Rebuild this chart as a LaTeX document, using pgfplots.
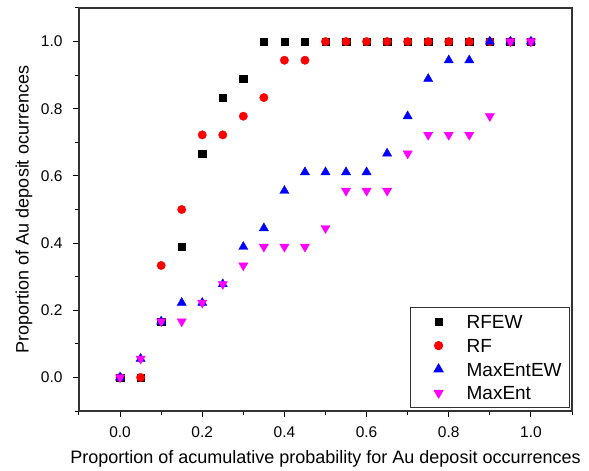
\documentclass[border=0pt]{standalone}
\usepackage{fontspec}
\setmainfont{Liberation Sans}
\usepackage{pgfplots}
\pgfplotsset{compat=1.18}
\usepackage{pgfplotstable}
\definecolor{mymag}{RGB}{255,0,255}
\definecolor{myred}{RGB}{255,0,0}
\definecolor{myblue}{RGB}{0,0,255}
\pgfplotstableread{
x y
0.00 0
0.05 0
0.10 0.1667
0.15 0.3889
0.20 0.6667
0.25 0.8333
0.30 0.8889
0.35 1
0.40 1
0.45 1
0.50 1
0.55 1
0.60 1
0.65 1
0.70 1
0.75 1
0.80 1
0.85 1
0.90 1
0.95 1
1.00 1
}\rfew
\pgfplotstableread{
x y
0.00 0
0.05 0
0.10 0.3333
0.15 0.5
0.20 0.7222
0.25 0.7222
0.30 0.7778
0.35 0.8333
0.40 0.9444
0.45 0.9444
0.50 1
0.55 1
0.60 1
0.65 1
0.70 1
0.75 1
0.80 1
0.85 1
0.90 1
0.95 1
1.00 1
}\rf
\pgfplotstableread{
x y
0.00 0
0.05 0.0556
0.10 0.1667
0.15 0.2222
0.20 0.2222
0.25 0.2778
0.30 0.3889
0.35 0.4444
0.40 0.5556
0.45 0.6111
0.50 0.6111
0.55 0.6111
0.60 0.6111
0.65 0.6667
0.70 0.7778
0.75 0.8889
0.80 0.9444
0.85 0.9444
0.90 1
0.95 1
1.00 1
}\maxentew
\pgfplotstableread{
x y
0.00 0
0.05 0.0556
0.10 0.1667
0.15 0.1667
0.20 0.2222
0.25 0.2778
0.30 0.3333
0.35 0.3889
0.40 0.3889
0.45 0.3889
0.50 0.4444
0.55 0.5556
0.60 0.5556
0.65 0.5556
0.70 0.6667
0.75 0.7222
0.80 0.7222
0.85 0.7222
0.90 0.7778
0.95 1
1.00 1
}\maxent
\begin{document}
\begin{tikzpicture}
\begin{axis}[
  scale only axis, width=493pt, height=403pt,
  xmin=-0.1, xmax=1.1, ymin=-0.1, ymax=1.1,
  xtick={0,0.2,0.4,0.6,0.8,1.0}, ytick={0,0.2,0.4,0.6,0.8,1.0},
  minor xtick={-0.1,0.1,0.3,0.5,0.7,0.9,1.1},
  minor ytick={-0.1,0.1,0.3,0.5,0.7,0.9,1.1},
  xtick pos=bottom, ytick pos=left,
  tick align=outside,
  major tick length=6pt, minor tick length=4pt,
  tick style={line width=1pt, black},
  axis line style={line width=1.3pt, black!80},
  /pgf/number format/assume math mode=true,
  xticklabel style={/pgf/number format/.cd, fixed, fixed zerofill, precision=1},
  yticklabel style={/pgf/number format/.cd, fixed, fixed zerofill, precision=1},
  tick label style={font=\fontsize{15.5}{18}\selectfont},
  xticklabel shift=6pt, yticklabel shift=7pt,
  every axis x label/.style={at={(axis description cs:0.5,-0.0893)}, anchor=north, font=\fontsize{18}{21}\selectfont},
  every axis y label/.style={at={(axis description cs:-0.0872,0.5)}, rotate=90, anchor=south, font=\fontsize{18}{21}\selectfont},
  xlabel={Proportion of acumulative probability for Au deposit occurrences},
  ylabel={Proportion of Au deposit ocurrences},
  legend style={at={(0.996,0.0074)}, anchor=south east, font=\fontsize{19}{22}\selectfont,
    draw=black!80, line width=0.8pt, inner sep=3pt, row sep=0pt,
    nodes={inner xsep=5pt, inner ysep=5pt, text height=13.6pt, text depth=0pt},
    cells={anchor=west}},
  legend cell align=left,
  legend image code/.code={\path[draw=none,fill=none] (-25pt,-5pt) rectangle (23pt,5pt); \draw[#1] plot coordinates {(0pt,0pt)};},
]
\addplot[only marks, mark=square*, black, mark size=3.7pt] table {\rfew};
\addlegendentry{RFEW}
\addplot[only marks, mark=*, myred, mark size=4.2pt] table {\rf};
\addlegendentry{RF}
\addplot[only marks, mark=triangle*, myblue, mark size=5.3pt] table {\maxentew};
\addlegendentry{MaxEntEW}
\addplot[only marks, mark=triangle*, mark options={rotate=180}, mymag, mark size=5.3pt] table {\maxent};
\addlegendentry{MaxEnt}
\end{axis}
\path (current axis.south west) ++(-79pt,-60pt) rectangle ++(589pt,471pt);
\end{tikzpicture}
\end{document}
